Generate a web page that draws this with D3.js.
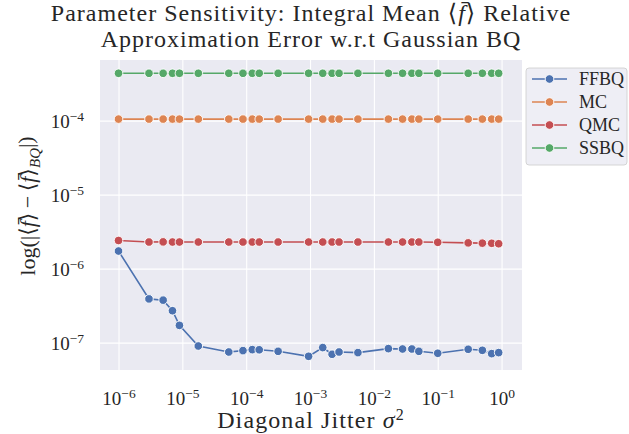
<!DOCTYPE html>
<html>
<head>
<meta charset="utf-8">
<script src="https://cdn.jsdelivr.net/npm/d3@7"></script>
<style>
  body { margin: 0; background: #fff; }
  text { font-family: "Liberation Serif", "DejaVu Serif", serif; fill: #262626; }
</style>
</head>
<body>
<div id="graph"></div>
<script>
var jitter = [1e-6, 3e-6, 5e-6, 7e-6, 9e-6,
              1.778e-5, 5.334e-5, 8.891e-5, 1.245e-4, 1.600e-4,
              3.162e-4, 9.487e-4, 1.581e-3, 2.214e-3, 2.846e-3,
              5.623e-3, 1.687e-2, 2.812e-2, 3.936e-2, 5.060e-2,
              0.1, 0.3, 0.5, 0.7, 0.9];

var ffbq = [1.73e-6, 3.9e-7, 3.75e-7, 2.7e-7, 1.71e-7,
            9.0e-8, 7.47e-8, 7.8e-8, 8.04e-8, 8.0e-8,
            7.63e-8, 6.53e-8, 8.57e-8, 6.96e-8, 7.47e-8,
            7.33e-8, 8.3e-8, 8.2e-8, 8.2e-8, 7.63e-8,
            7.18e-8, 8.13e-8, 7.87e-8, 7.1e-8, 7.33e-8];

var mc = [1.05e-4, 1.05e-4, 1.05e-4, 1.05e-4, 1.05e-4,
          1.05e-4, 1.05e-4, 1.05e-4, 1.05e-4, 1.05e-4,
          1.05e-4, 1.05e-4, 1.05e-4, 1.05e-4, 1.05e-4,
          1.05e-4, 1.05e-4, 1.05e-4, 1.05e-4, 1.05e-4,
          1.05e-4, 1.05e-4, 1.05e-4, 1.05e-4, 1.05e-4];

var qmc = [2.40e-6, 2.29e-6, 2.30e-6, 2.29e-6, 2.29e-6,
           2.29e-6, 2.29e-6, 2.29e-6, 2.29e-6, 2.29e-6,
           2.29e-6, 2.29e-6, 2.29e-6, 2.29e-6, 2.29e-6,
           2.29e-6, 2.29e-6, 2.29e-6, 2.29e-6, 2.29e-6,
           2.27e-6, 2.23e-6, 2.21e-6, 2.20e-6, 2.17e-6];

var ssbq = [4.37e-4, 4.37e-4, 4.37e-4, 4.37e-4, 4.37e-4,
            4.37e-4, 4.37e-4, 4.37e-4, 4.37e-4, 4.37e-4,
            4.37e-4, 4.37e-4, 4.37e-4, 4.37e-4, 4.37e-4,
            4.37e-4, 4.37e-4, 4.37e-4, 4.37e-4, 4.37e-4,
            4.37e-4, 4.37e-4, 4.37e-4, 4.37e-4, 4.37e-4];

var noms = ["FFBQ", "MC", "QMC", "SSBQ"];
var couleurs = ["#4c72b0", "#dd8452", "#c44e52", "#55a868"];
var xTicks = [1e-6, 1e-5, 1e-4, 1e-3, 1e-2, 1e-1, 1e0];
var yTicks = [1e-7, 1e-6, 1e-5, 1e-4];

function dessin() {
    var margin = {top: 60, right: 107, bottom: 64, left: 100},
        width = 629 - margin.left - margin.right,
        height = 434 - margin.top - margin.bottom,
        series = [ffbq, mc, qmc, ssbq],

        root = d3.select("#graph")
            .append("svg")
                .attr("width", 629)
                .attr("height", 434),
        svg = root.append("g")
                .attr("transform", "translate(" + margin.left + "," + margin.top + ")"),

        x = d3.scaleLog()
            .domain([Math.pow(10, -6.29), Math.pow(10, 0.32)])
            .range([0, width]),

        y = d3.scaleLog()
            .domain([Math.pow(10, -7.37), Math.pow(10, -3.18)])
            .range([height, 0]);

    svg.append("rect")
        .attr("width", width)
        .attr("height", height)
        .attr("fill", "#eaeaf2");

    function exposant(sel) {
        sel.selectAll(".tick text").each(function (d) {
            var t = d3.select(this),
                e = Math.round(Math.log10(d));
            t.text("");
            t.append("tspan").text("10");
            t.append("tspan")
                .attr("dy", "-0.5em")
                .style("font-size", "13.5px")
                .text(String(e).replace("-", "\u2212"));
        });
    }

    var gx = svg.append("g")
        .attr("transform", "translate(0," + height + ")")
        .call(d3.axisBottom(x).tickValues(xTicks).tickSize(-height).tickPadding(35));
    gx.select(".domain").remove();
    gx.selectAll(".tick line").attr("stroke", "#fff").attr("stroke-width", 1.1);
    gx.selectAll(".tick text").style("font-size", "19px").attr("dy", 0);
    exposant(gx);

    var gy = svg.append("g")
        .call(d3.axisLeft(y).tickValues(yTicks).tickSize(-width).tickPadding(16));
    gy.select(".domain").remove();
    gy.selectAll(".tick line").attr("stroke", "#fff").attr("stroke-width", 1.1);
    gy.selectAll(".tick text").style("font-size", "19px").attr("dy", "0.35em");
    exposant(gy);

    series.forEach(function (s, i) {
        var pts = jitter.map(function (v, k) { return [v, s[k]]; });
        svg.append("path")
            .datum(pts)
            .attr("fill", "none")
            .attr("stroke", couleurs[i])
            .attr("stroke-width", 1.6)
            .attr("d", d3.line()
                .x(function (d) { return x(d[0]); })
                .y(function (d) { return y(d[1]); })
                );
        svg.selectAll(".pt" + i)
            .data(pts)
            .enter()
            .append("circle")
            .attr("cx", function (d) { return x(d[0]); })
            .attr("cy", function (d) { return y(d[1]); })
            .attr("r", 4.3)
            .attr("fill", couleurs[i])
            .attr("stroke", "#fff")
            .attr("stroke-width", 0.9);
    });

    // titre
    var cx = margin.left + width / 2,
        titre = root.append("text")
        .attr("text-anchor", "middle")
        .style("font-size", "24px")
        .style("letter-spacing", "1px");
    titre.append("tspan").attr("x", cx).attr("y", 21)
        .text("Parameter Sensitivity: Integral Mean \u27E8")
        .append("tspan").style("font-style", "italic").text("f\u0304");
    titre.append("tspan").text("\u27E9 Relative");
    titre.append("tspan").attr("x", cx).attr("y", 47)
        .text("Approximation Error w.r.t Gaussian BQ");

    // axe x
    var lx = root.append("text")
        .attr("x", cx)
        .attr("y", 428)
        .attr("text-anchor", "middle")
        .style("font-size", "24px")
        .style("letter-spacing", "1.1px")
        .text("Diagonal Jitter ");
    lx.append("tspan").style("font-style", "italic").text("\u03C3");
    lx.append("tspan").attr("dy", "-0.5em").style("font-size", "16px").text("2");

    // axe y
    var ly = root.append("text")
        .attr("transform", "translate(35,206) rotate(-90)")
        .attr("text-anchor", "middle")
        .style("font-size", "22px");
    ly.append("tspan").text("log(|\u27E8");
    ly.append("tspan").style("font-style", "italic").text("f\u0304");
    ly.append("tspan").text("\u27E9\u2009\u2212\u2009\u27E8");
    ly.append("tspan").style("font-style", "italic").text("f\u0304");
    ly.append("tspan").text("\u27E9");
    ly.append("tspan").attr("dy", "0.3em").style("font-size", "15px").style("font-style", "italic").text("BQ");
    ly.append("tspan").attr("dy", "-0.3em").text("|)");

    // légende
    var leg = root.append("g").attr("transform", "translate(526,68)");
    leg.append("rect")
        .attr("width", 101)
        .attr("height", 97)
        .attr("rx", 3)
        .attr("fill", "#eaeaf2")
        .attr("fill-opacity", 0.8)
        .attr("stroke", "#cccccc")
        .attr("stroke-width", 0.8);
    var items = leg.selectAll(".item")
        .data(noms)
        .enter()
        .append("g")
        .attr("transform", function (d, i) { return "translate(0," + (11 + i * 23) + ")"; });
    items.append("line")
        .attr("x1", 6).attr("x2", 41)
        .attr("stroke", function (d, i) { return couleurs[i]; })
        .attr("stroke-width", 1.6);
    items.append("circle")
        .attr("cx", 23.5)
        .attr("r", 4.3)
        .attr("fill", function (d, i) { return couleurs[i]; })
        .attr("stroke", "#fff")
        .attr("stroke-width", 0.9);
    items.append("text")
        .attr("x", 53)
        .attr("dy", "0.35em")
        .style("font-size", "18px")
        .text(function (d) { return d; });
}

dessin();
</script>
</body>
</html>
